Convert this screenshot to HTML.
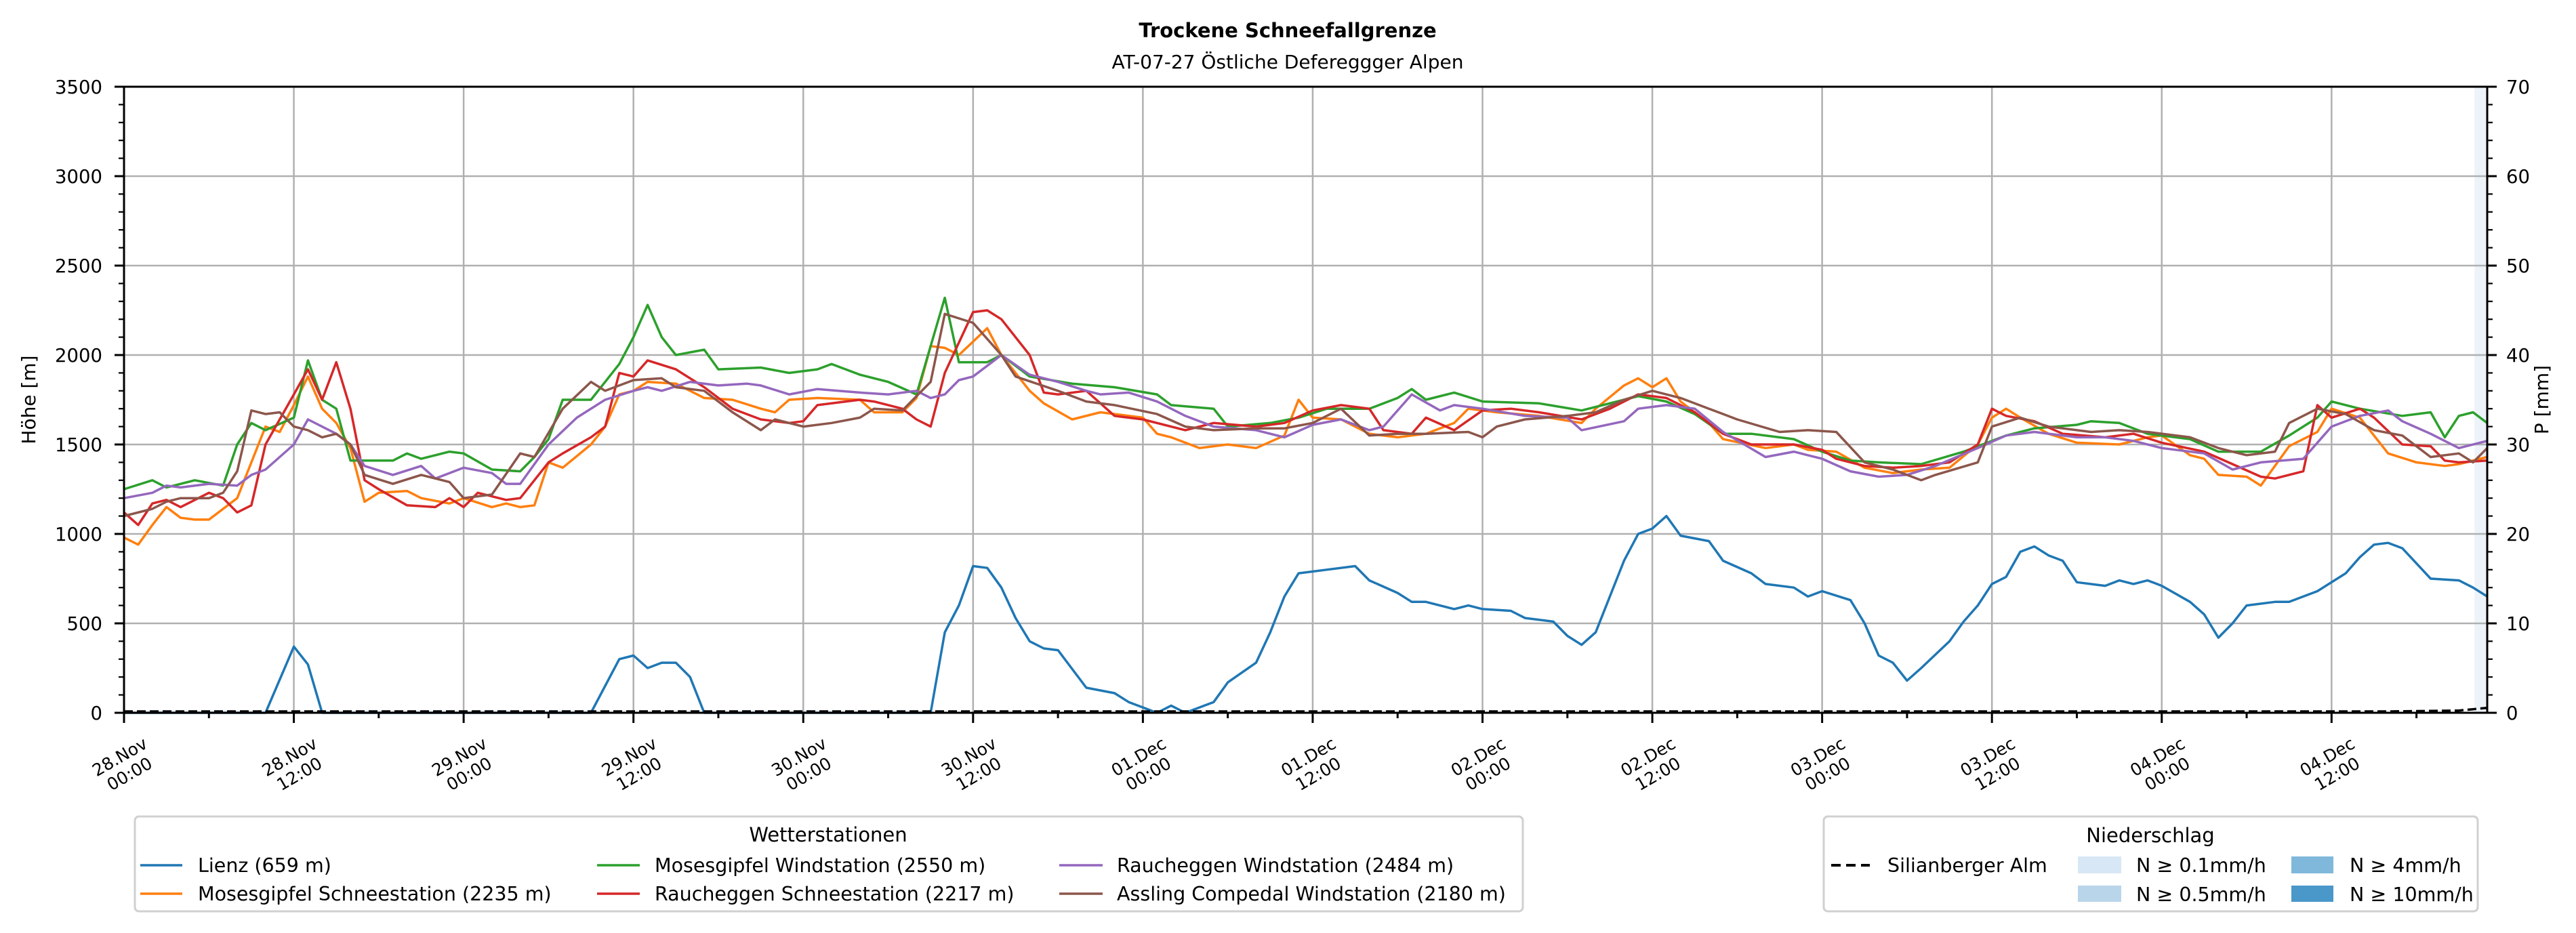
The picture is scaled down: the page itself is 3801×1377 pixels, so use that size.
<!DOCTYPE html>
<html><head><meta charset="utf-8"><style>
html,body{margin:0;padding:0;background:#fff}
svg{display:block;font-family:"DejaVu Sans","Liberation Sans",sans-serif}
</style></head><body>
<svg id="chart" width="3801" height="1377" viewBox="0 0 3801 1377" xmlns="http://www.w3.org/2000/svg">
<text x="1900" y="55" text-anchor="middle" font-size="29" font-weight="bold">Trockene Schneefallgrenze</text>
<text x="1900" y="101" text-anchor="middle" font-size="28">AT-07-27 Östliche Defereggger Alpen</text>
<g id="plot"></g>
<text x="0" y="0" transform="translate(52,590) rotate(-90)" text-anchor="middle" font-size="28">Höhe [m]</text>
<text x="0" y="0" transform="translate(3760,590) rotate(-90)" text-anchor="middle" font-size="28">P [mm]</text>
<g>
<rect x="199" y="1205" width="2048" height="140" rx="6" fill="#fff" stroke="#d0d0d0" stroke-width="3"/>
<text x="1222" y="1242" text-anchor="middle" font-size="29">Wetterstationen</text>
<g><line x1="207" y1="1277" x2="269" y2="1277" stroke="#1f77b4" stroke-width="3.5"/><text x="292" y="1287" font-size="28.5">Lienz (659 m)</text></g>
<g><line x1="207" y1="1319" x2="269" y2="1319" stroke="#ff7f0e" stroke-width="3.5"/><text x="292" y="1329" font-size="28.5">Mosesgipfel Schneestation (2235 m)</text></g>
<g><line x1="881" y1="1277" x2="944" y2="1277" stroke="#2ca02c" stroke-width="3.5"/><text x="966" y="1287" font-size="28.5">Mosesgipfel Windstation (2550 m)</text></g>
<g><line x1="881" y1="1319" x2="944" y2="1319" stroke="#d62728" stroke-width="3.5"/><text x="966" y="1329" font-size="28.5">Raucheggen Schneestation (2217 m)</text></g>
<g><line x1="1563" y1="1277" x2="1627" y2="1277" stroke="#9467bd" stroke-width="3.5"/><text x="1648" y="1287" font-size="28.5">Raucheggen Windstation (2484 m)</text></g>
<g><line x1="1563" y1="1319" x2="1627" y2="1319" stroke="#8c564b" stroke-width="3.5"/><text x="1648" y="1329" font-size="28.5">Assling Compedal Windstation (2180 m)</text></g>
</g>
<g>
<rect x="2691" y="1205" width="965" height="140" rx="6" fill="#fff" stroke="#d0d0d0" stroke-width="3"/>
<text x="3173" y="1243" text-anchor="middle" font-size="29">Niederschlag</text>
<g><line x1="2702" y1="1277" x2="2759" y2="1277" stroke="#000" stroke-width="4" stroke-dasharray="14,8"/><text x="2785" y="1287" font-size="28.5">Silianberger Alm</text></g>
<g><rect x="3066" y="1264" width="64" height="25" fill="#d8e7f5"/><text x="3152" y="1287" font-size="28.5">N ≥ 0.1mm/h</text></g>
<g><rect x="3066" y="1307" width="64" height="24" fill="#b9d5ea"/><text x="3152" y="1330" font-size="28.5">N ≥ 0.5mm/h</text></g>
<g><rect x="3381" y="1264" width="62" height="25" fill="#7fb8da"/><text x="3467" y="1287" font-size="28.5">N ≥ 4mm/h</text></g>
<g><rect x="3381" y="1307" width="62" height="24" fill="#4a97c9"/><text x="3467" y="1330" font-size="28.5">N ≥ 10mm/h</text></g>
</g>
</svg>
<script>
const yTicks=[0,500,1000,1500,2000,2500,3000,3500];
const y2Ticks=[0,10,20,30,40,50,60,70];
const xTickHours=[0,12,24,36,48,60,72,84,96,108,120,132,144,156];
const xTickDates=["28.Nov","28.Nov","29.Nov","29.Nov","30.Nov","30.Nov","01.Dec","01.Dec","02.Dec","02.Dec","03.Dec","03.Dec","04.Dec","04.Dec"];
const xTickTimes=["00:00","12:00","00:00","12:00","00:00","12:00","00:00","12:00","00:00","12:00","00:00","12:00","00:00","12:00"];

const lienzH=[0,10,12,13,14,33,35,36,37,38,39,40,41,57,58,59,60,61,62,63,64,65,66,68,70,71,72,73,74,75,77,78,80,81,82,83,85,87,88,90,91,92,94,95,96,98,99,101,102,103,104,105,106,107,108,109,110,112,113,115,116,118,119,120,122,123,124,125,126,127,129,130,131,132,133,134,135,136,137,138,140,141,142,143,144,146,147,148,149,150,152,153,155,157,158,159,160,161,163,165,166,167];
const lienzV=[0,0,370,270,0,0,300,320,250,280,280,200,0,0,450,600,820,810,700,530,400,360,350,140,110,60,30,0,40,0,60,170,280,450,650,780,800,820,740,670,620,620,580,600,580,570,530,510,430,380,450,650,850,1000,1030,1100,990,960,850,780,720,700,650,680,630,500,320,280,180,250,400,510,600,720,760,900,930,880,850,730,710,740,720,740,710,620,550,420,500,600,620,620,680,780,870,940,950,920,750,740,700,650];

const mosesSchneeH=[0,1,2,3,4,5,6,8,9,10,11,12,13,14,15,16,17,18,20,21,23,24,26,27,28,29,30,31,33,34,35,36,37,39,41,43,45,46,47,49,52,53,55,56,57,58,59,61,62,64,65,67,69,72,73,74,76,78,80,82,83,84,86,88,90,92,94,95,97,100,103,104,106,107,108,109,110,112,113,116,118,119,121,123,125,127,129,131,132,133,134,136,138,141,143,144,146,147,148,150,151,153,155,156,158,160,162,164,165,167];
const mosesSchneeV=[980,940,1050,1150,1090,1080,1080,1200,1400,1600,1570,1720,1880,1700,1620,1480,1180,1230,1240,1200,1170,1200,1150,1170,1150,1160,1400,1370,1500,1600,1780,1800,1850,1840,1760,1750,1700,1680,1750,1760,1750,1680,1680,1760,2050,2040,2000,2150,2000,1800,1730,1640,1680,1650,1560,1540,1480,1500,1480,1550,1750,1650,1640,1560,1540,1560,1620,1700,1680,1660,1620,1700,1830,1870,1820,1870,1740,1620,1530,1480,1500,1470,1460,1370,1340,1360,1370,1500,1650,1700,1650,1560,1510,1500,1540,1550,1440,1420,1330,1320,1270,1490,1570,1700,1650,1450,1400,1380,1390,1430];

const mosesWindH=[0,2,3,5,7,8,9,10,12,13,14,15,16,19,20,21,23,24,26,28,29,30,31,33,35,36,37,38,39,41,42,45,47,49,50,52,54,56,58,59,61,62,64,67,70,73,74,77,78,81,83,85,88,90,91,92,94,96,100,103,106,107,109,111,113,115,118,120,122,124,127,130,133,135,138,139,141,143,146,148,151,153,155,156,158,161,163,164,165,166,167];
const mosesWindV=[1250,1300,1260,1300,1270,1500,1620,1580,1650,1970,1750,1700,1410,1410,1450,1420,1460,1450,1360,1350,1430,1530,1750,1750,1950,2100,2280,2100,2000,2030,1920,1930,1900,1920,1950,1890,1850,1780,2320,1960,1960,2000,1880,1840,1820,1780,1720,1700,1600,1620,1650,1700,1700,1760,1810,1750,1790,1740,1730,1690,1750,1770,1740,1670,1560,1560,1530,1460,1410,1400,1390,1460,1550,1590,1610,1630,1620,1560,1530,1460,1460,1550,1650,1740,1700,1660,1680,1540,1660,1680,1620];

const rauchSchneeH=[0,1,2,3,4,6,7,8,9,10,12,13,14,15,16,17,18,20,22,23,24,25,27,28,30,31,33,34,35,36,37,39,41,43,45,47,48,49,52,53,55,56,57,58,60,61,62,64,65,66,68,70,72,75,77,80,82,84,86,88,89,91,92,94,96,98,100,103,105,107,109,111,113,115,118,120,121,123,125,127,129,131,132,133,135,137,140,142,144,147,149,151,152,154,155,156,158,159,161,163,164,165,167];
const rauchSchneeV=[1120,1050,1170,1190,1150,1230,1200,1120,1160,1500,1780,1920,1750,1960,1700,1300,1250,1160,1150,1200,1150,1230,1190,1200,1400,1450,1540,1600,1900,1880,1970,1920,1820,1700,1640,1620,1630,1720,1750,1740,1700,1640,1600,1900,2240,2250,2200,2000,1790,1780,1800,1660,1640,1580,1620,1600,1620,1690,1720,1700,1580,1560,1650,1580,1690,1700,1680,1640,1700,1780,1760,1680,1560,1500,1500,1470,1420,1380,1370,1380,1400,1500,1700,1660,1630,1560,1540,1560,1510,1460,1390,1320,1310,1350,1720,1650,1700,1650,1500,1490,1410,1400,1410];

const rauchWindH=[0,2,3,4,6,8,9,10,12,13,15,16,17,19,21,22,24,26,27,28,30,32,34,36,37,38,40,42,44,45,47,49,52,54,56,57,58,59,60,62,64,66,68,69,71,73,75,77,80,82,84,86,88,89,91,93,94,96,99,102,103,106,107,109,111,113,116,118,120,122,124,126,128,131,133,135,138,140,142,144,147,149,151,154,156,158,160,161,163,165,167];
const rauchWindV=[1200,1230,1270,1260,1280,1270,1330,1360,1500,1640,1560,1500,1380,1330,1380,1310,1370,1340,1280,1280,1500,1650,1750,1800,1820,1800,1850,1830,1840,1830,1780,1810,1790,1780,1800,1760,1780,1860,1880,2000,1890,1850,1800,1780,1790,1740,1660,1600,1580,1540,1610,1640,1580,1600,1780,1690,1720,1700,1660,1650,1580,1630,1700,1720,1700,1570,1430,1460,1420,1350,1320,1330,1380,1480,1550,1570,1540,1540,1520,1480,1450,1360,1400,1420,1600,1660,1690,1630,1560,1480,1520];

const asslingH=[0,2,3,4,6,7,8,9,10,11,12,13,14,15,16,17,19,21,23,24,26,28,29,31,33,34,36,38,39,41,43,45,46,48,50,52,53,55,57,58,60,62,63,66,68,70,73,75,77,80,82,84,86,88,90,92,95,96,97,99,102,104,106,108,110,112,114,117,119,121,123,125,127,128,131,132,134,136,139,141,143,146,148,150,152,153,155,157,159,161,163,165,166,167];
const asslingV=[1100,1140,1180,1200,1200,1230,1350,1690,1670,1680,1600,1580,1540,1560,1500,1330,1280,1330,1290,1200,1220,1450,1430,1700,1850,1800,1860,1870,1820,1800,1680,1580,1640,1600,1620,1650,1700,1690,1850,2230,2180,2000,1880,1800,1740,1720,1670,1600,1580,1590,1590,1620,1700,1550,1560,1560,1570,1540,1600,1640,1660,1680,1750,1800,1760,1700,1640,1570,1580,1570,1400,1360,1300,1330,1400,1600,1650,1600,1570,1580,1570,1540,1480,1440,1460,1620,1700,1670,1580,1550,1430,1450,1400,1480];

const precipH=[0,150,160,165,166,167];
const precipV=[0,0,0,0.1,0.25,0.4];

const L=183,R=3670,T=128,B=1052,HMAX=167,YMAX=3500,PMAX=70;
const sx=h=>L+(R-L)*h/HMAX;
const sy=v=>B-(B-T)*v/YMAX;
const sp=p=>B-(B-T)*p/PMAX;
const NS="http://www.w3.org/2000/svg";
const g=document.getElementById('plot');
function mk(tag,attrs,parent){const e=document.createElementNS(NS,tag);for(const k in attrs)e.setAttribute(k,attrs[k]);(parent||g).appendChild(e);return e;}

const shade=mk('rect',{x:sx(166.1),y:T,width:R-sx(166.1),height:B-T,fill:'#eef3fa'});



yTicks.forEach(v=>{const l=mk('line',{x1:L,x2:R,y1:sy(v),y2:sy(v),stroke:'#b0b0b0','stroke-width':2.5});

});
xTickHours.forEach(h=>{const l=mk('line',{x1:sx(h),x2:sx(h),y1:T,y2:B,stroke:'#b0b0b0','stroke-width':2.5});

});

const series=[[lienzH,lienzV,'#1f77b4','series-lienz'],[mosesSchneeH,mosesSchneeV,'#ff7f0e','series-moses-schnee'],[mosesWindH,mosesWindV,'#2ca02c','series-moses-wind'],[rauchSchneeH,rauchSchneeV,'#d62728','series-rauch-schnee'],[rauchWindH,rauchWindV,'#9467bd','series-rauch-wind'],[asslingH,asslingV,'#8c564b','series-assling']];
series.forEach(s=>{const d=s[0].map((h,i)=>(i?'L':'M')+sx(h).toFixed(1)+','+sy(s[1][i]).toFixed(1)).join('');
const p=mk('path',{d:d,fill:'none',stroke:s[2],'stroke-width':3.5,'stroke-linejoin':'round'});

});

const pd=precipH.map((h,i)=>(i?'L':'M')+sx(h).toFixed(1)+','+(sp(precipV[i])-2).toFixed(1)).join('');
const pl=mk('path',{d:pd,fill:'none',stroke:'#000','stroke-width':3.5,'stroke-dasharray':'13,6'});



const fr=mk('rect',{x:L,y:T,width:R-L,height:B-T,fill:'none',stroke:'#000','stroke-width':3});



for(let v=0;v<=YMAX;v+=100){const major=v%500===0;mk('line',{x1:L-(major?14:8),x2:L,y1:sy(v),y2:sy(v),stroke:'#000','stroke-width':major?3:2.2});}
yTicks.forEach(v=>{const t=mk('text',{x:L-32,y:sy(v)+10,'text-anchor':'end','font-size':27.5});t.textContent=v;

});
for(let p=0;p<=PMAX;p+=2){const major=p%10===0;mk('line',{x1:R,x2:R+(major?14:8),y1:sp(p),y2:sp(p),stroke:'#000','stroke-width':major?3:2.2});}
y2Ticks.forEach(p=>{const t=mk('text',{x:R+28,y:sp(p)+10,'text-anchor':'start','font-size':27.5});t.textContent=p;

});

for(let h=0;h<=HMAX;h+=6){const major=h%12===0;mk('line',{x1:sx(h),x2:sx(h),y1:B,y2:B+(major?15:8),stroke:'#000','stroke-width':3});}
xTickHours.forEach((h,i)=>{const cx=sx(h),cy=1128;
const t=mk('text',{x:cx,y:cy,'text-anchor':'middle','font-size':25,transform:`rotate(-30 ${cx} ${cy})`});


const a=mk('tspan',{x:cx,dy:-4},t);a.textContent=xTickDates[i];
const b=mk('tspan',{x:cx,dy:29},t);b.textContent=xTickTimes[i];});
</script>
</body></html>
